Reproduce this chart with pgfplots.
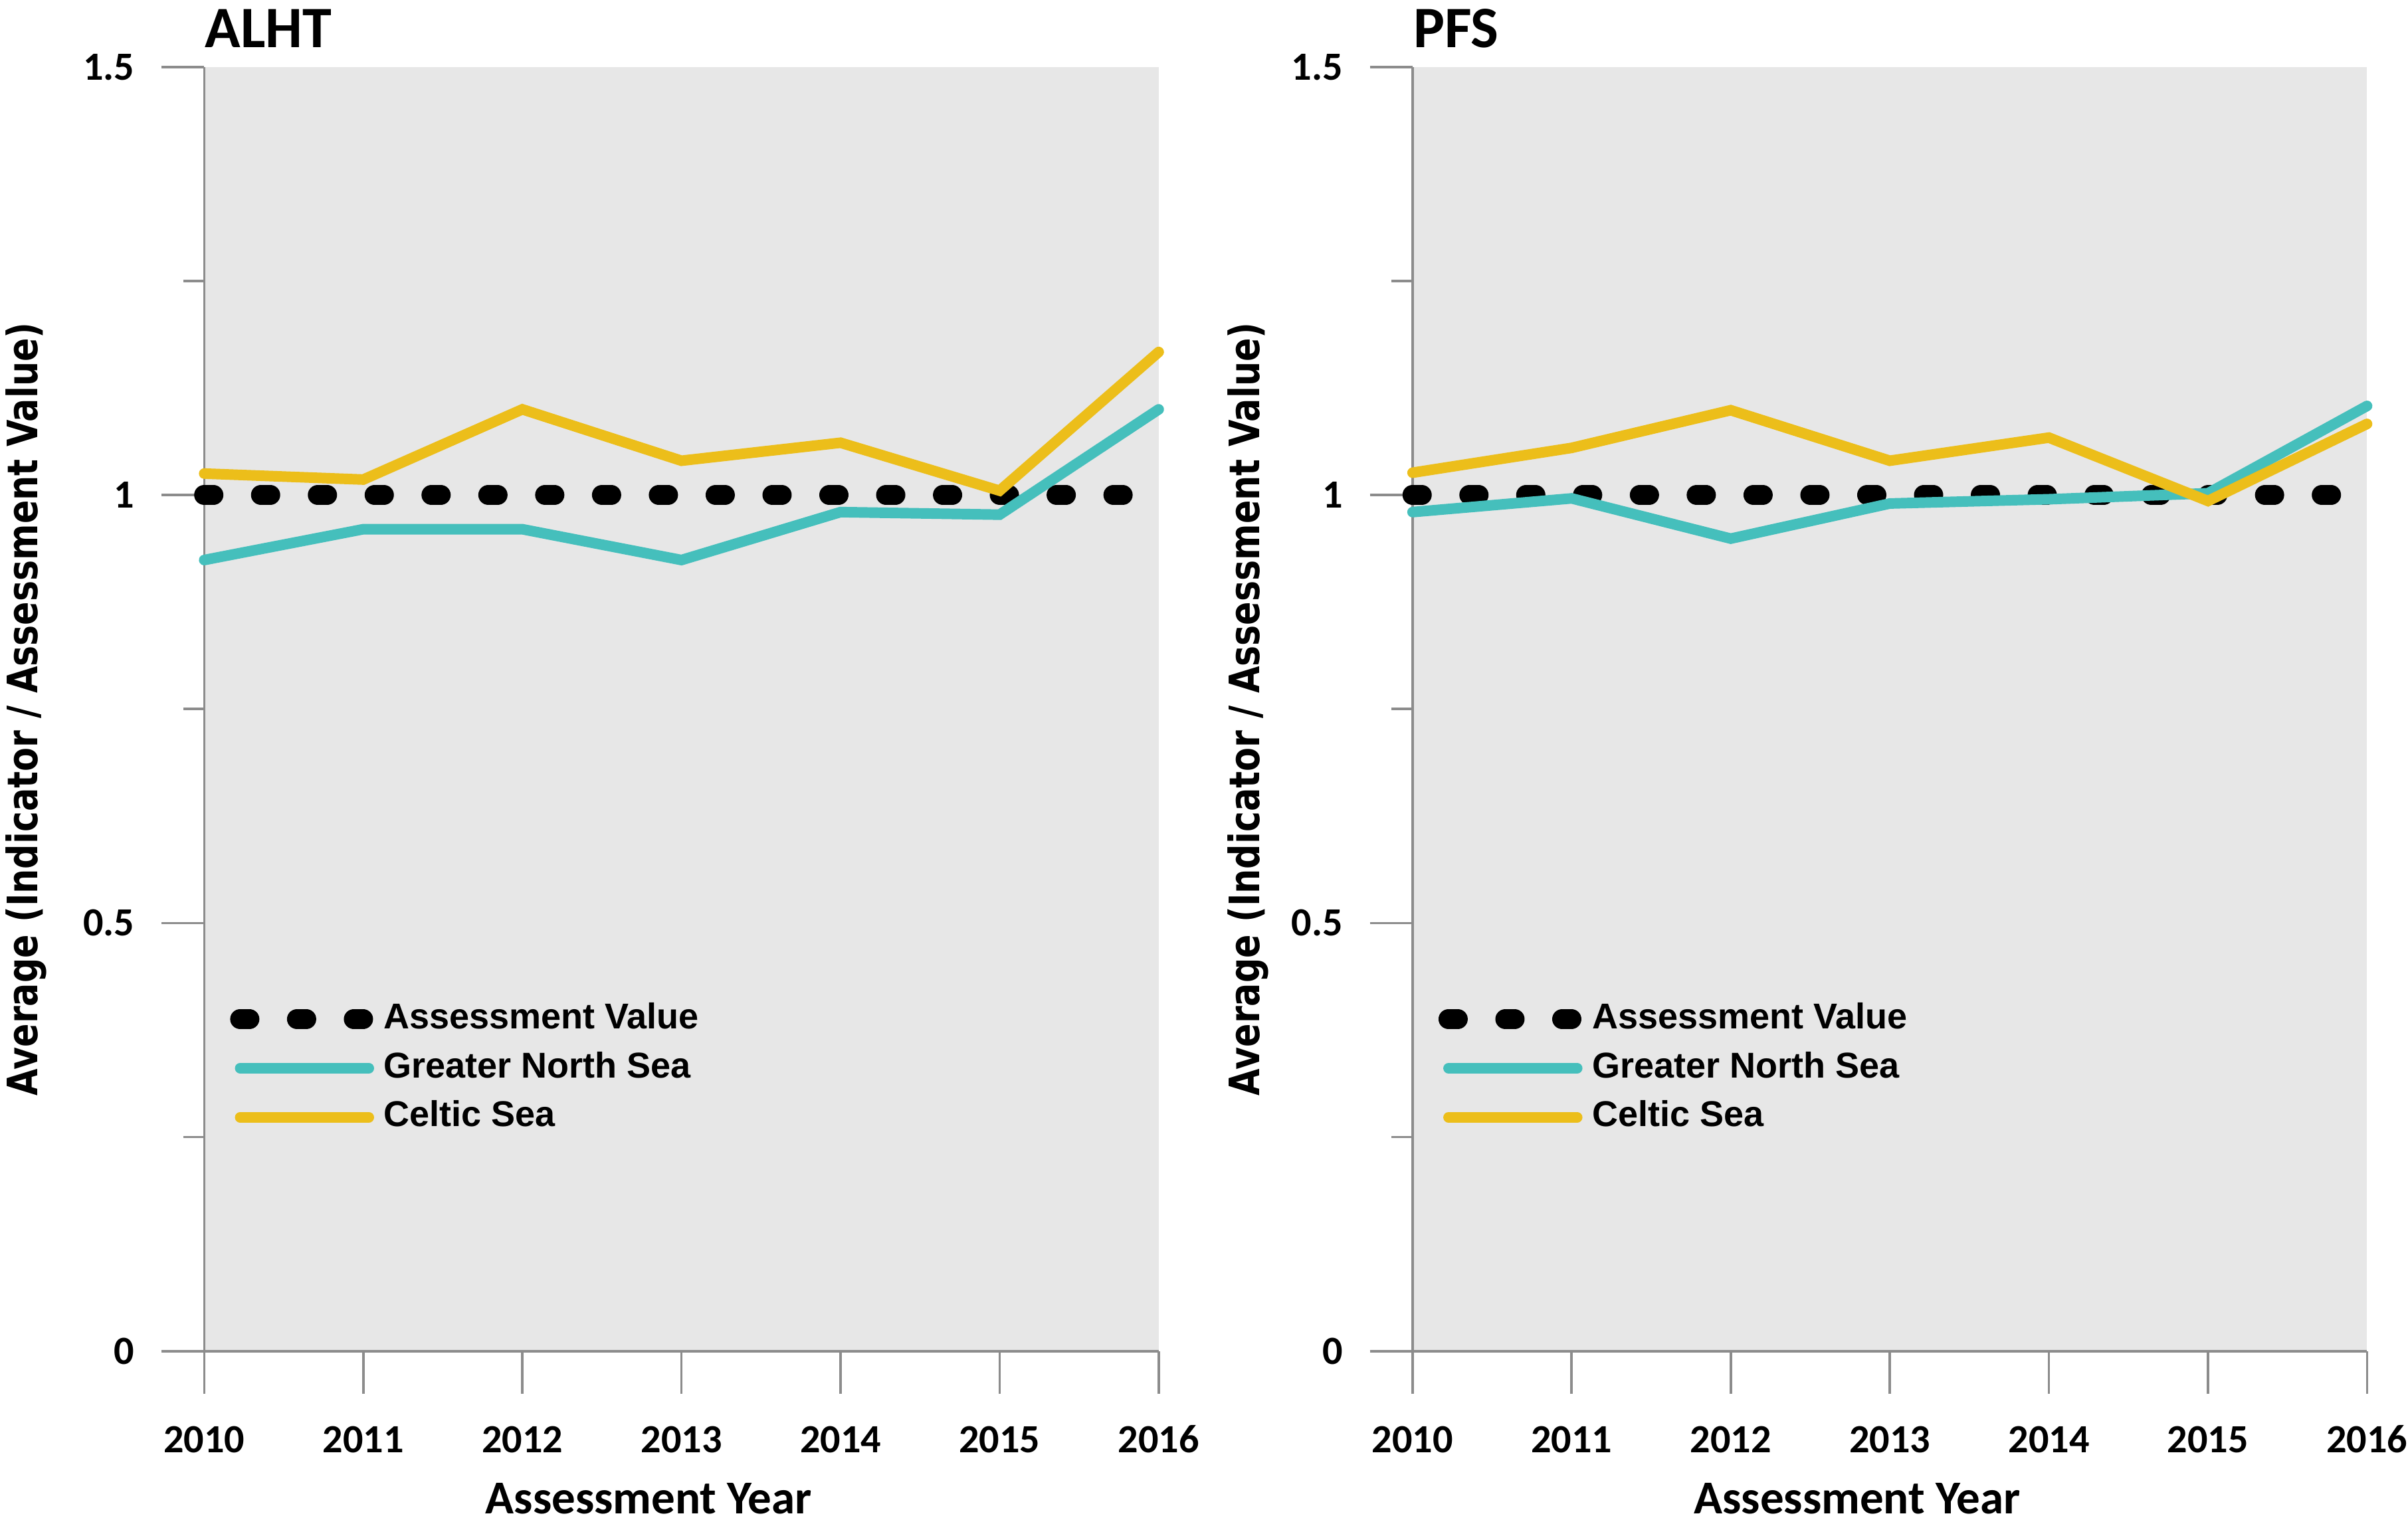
\documentclass[border=0pt]{standalone}
\usepackage{pgfplots}
\usepackage{pgfplotstable}
\pgfplotsset{compat=1.18}
\usepackage{fontspec}
\setmainfont{Carlito}
\newfontfamily\ylabfont[FakeStretch=0.83]{DejaVu Sans}
\newfontfamily\legfont{Liberation Sans}

\definecolor{gns}{RGB}{69,191,188}
\definecolor{celtic}{RGB}{236,190,26}
\definecolor{panelbg}{RGB}{231,231,231}
\definecolor{axgray}{RGB}{140,140,140}

% average of indicator / assessment value, per assessment year
\pgfplotstableread{
year av alhtgns alhtcs pfsgns pfscs
2010 1 0.924 1.025 0.980 1.026
2011 1 0.960 1.018 0.996 1.055
2012 1 0.960 1.100 0.949 1.099
2013 1 0.924 1.040 0.990 1.040
2014 1 0.980 1.061 0.995 1.067
2015 1 0.977 1.005 1.002 0.993
2016 1 1.100 1.167 1.104 1.083
}\data

\pgfplotsset{
  panel/.style={
    scale only axis, width=198.2pt, height=266.7pt,
    anchor=south west, clip=false,
    xmin=2010, xmax=2016, ymin=0, ymax=1.5,
    axis x line*=bottom, axis y line*=left,
    axis line style={axgray, line width=0.5pt, -},
    axis background/.style={fill=panelbg},
    xtick={2010,2011,2012,2013,2014,2015,2016},
    xticklabels={2010,2011,2012,2013,2014,2015,2016},
    ytick={0,0.5,1,1.5}, yticklabels={0,0.5,1,1.5},
    minor ytick={0.25,0.75,1.25},
    tick align=outside, major tick length=8.9pt, minor tick length=4.4pt,
    tick style={axgray, line width=0.5pt},
    tick label style={font=\bfseries\fontsize{8.3}{10}\selectfont, inner sep=0pt},
    xticklabel style={anchor=base, yshift=-12.2pt},
    yticklabel style={anchor=east, xshift=-5.4pt},
    title style={at={(axis description cs:0,1)}, anchor=base west, yshift=-2.0pt,
      font=\bfseries\fontsize{12.2}{14}\selectfont, inner sep=0pt},
    xlabel={Assessment Year},
    xlabel style={at={(axis description cs:0.5,0)}, anchor=base, yshift=-33.7pt,
      xshift=-6.8pt, font=\bfseries\fontsize{9.8}{12}\selectfont, inner sep=0pt},
    ylabel={Average (Indicator / Assessment Value)},
    ylabel style={anchor=center, font=\ylabfont\bfseries\fontsize{8.7}{10}\selectfont, inner sep=0pt},
    legend cell align=left,
    legend image code/.code={\draw[##1] (0pt,0pt) -- (26.7pt,0pt);},
    legend style={at={(axis description cs:0.0262,0.2203)}, anchor=west,
      draw=none, fill=none, inner sep=0pt, row sep=3.3pt, column sep=1.05pt,
      nodes={inner sep=0pt},
      font=\legfont\bfseries\fontsize{7.45}{8.8}\selectfont},
  },
  avline/.style={black, line width=4.17pt, line cap=round, dash pattern=on 1.9pt off 9.9pt},
  seriesline/.style={line width=2.2pt, line cap=round},
}

\begin{document}
\begin{tikzpicture}
\path[use as bounding box] (0,0) rectangle (500pt,317.3pt);

\begin{axis}[panel, at={(42.4pt,36.7pt)}, title={ALHT},
  ylabel style={at={(axis description cs:-0.1862,0.5)}}]
  \addplot[avline] table[x=year, y=av] {\data};
  \addlegendentry{Assessment Value}
  \addplot[seriesline, gns] table[x=year, y=alhtgns] {\data};
  \addlegendentry{Greater North Sea}
  \addplot[seriesline, celtic] table[x=year, y=alhtcs] {\data};
  \addlegendentry{Celtic Sea}
\end{axis}

\begin{axis}[panel, at={(293.3pt,36.7pt)}, title={PFS},
  ylabel style={at={(axis description cs:-0.1726,0.5)}}]
  \addplot[avline] table[x=year, y=av] {\data};
  \addlegendentry{Assessment Value}
  \addplot[seriesline, gns] table[x=year, y=pfsgns] {\data};
  \addlegendentry{Greater North Sea}
  \addplot[seriesline, celtic] table[x=year, y=pfscs] {\data};
  \addlegendentry{Celtic Sea}
\end{axis}
\end{tikzpicture}
\end{document}
